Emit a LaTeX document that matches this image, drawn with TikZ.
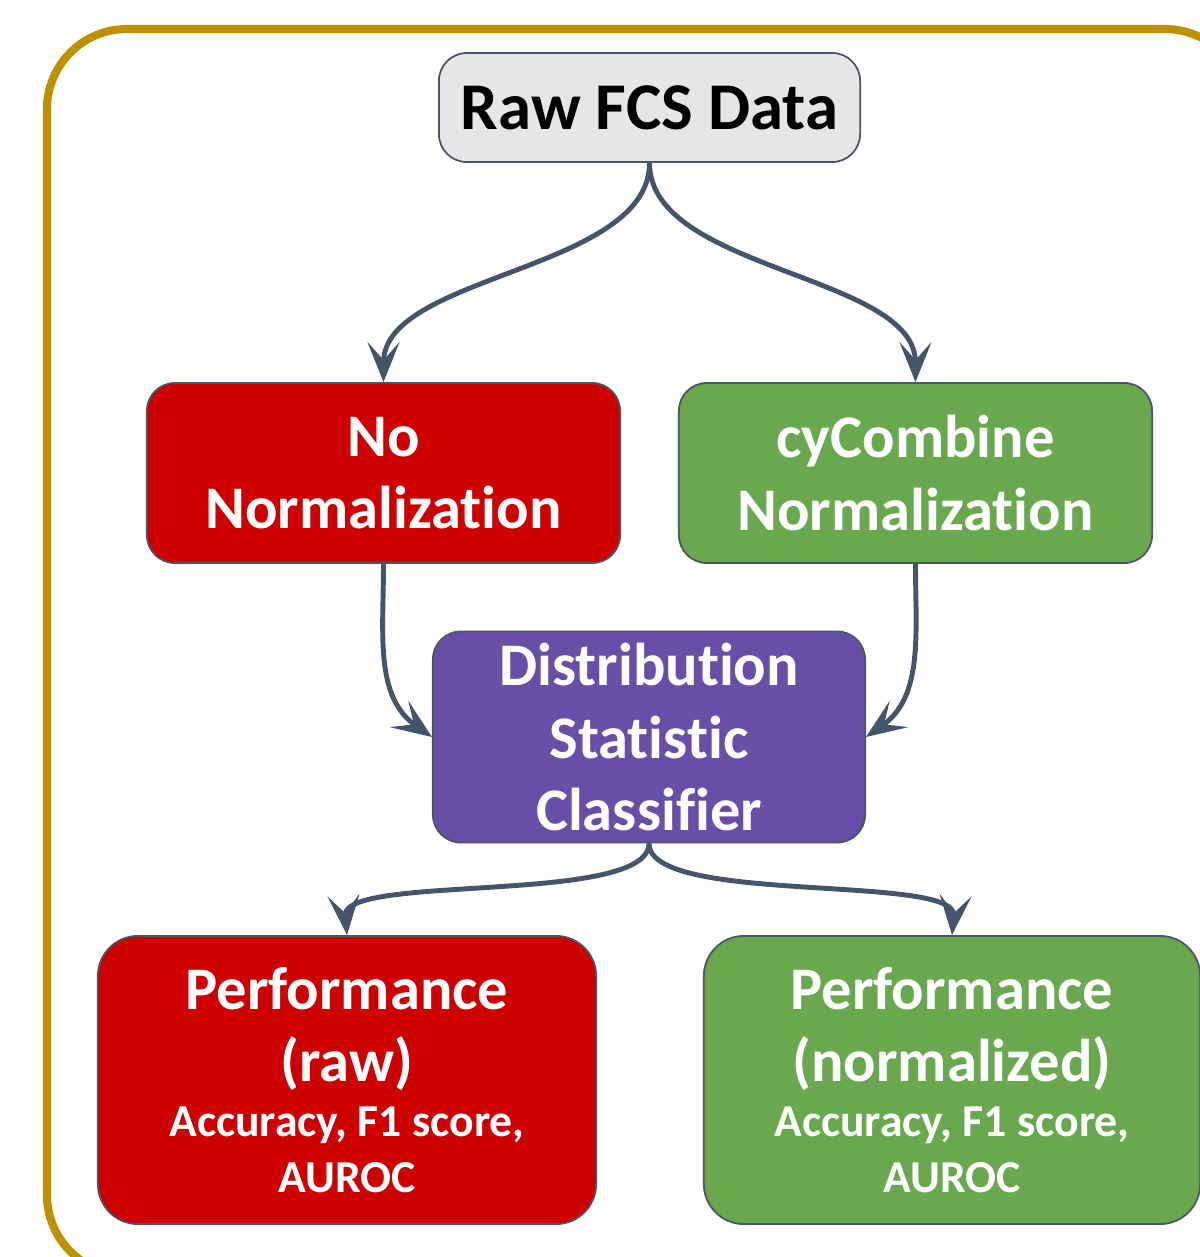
\documentclass[tikz,border=0pt]{standalone}
\usepackage{fontspec}
\setmainfont{Carlito}[Ligatures={NoCommon}]
\usetikzlibrary{positioning,arrows.meta}
\definecolor{rawgray}{HTML}{E6E6E6}
\definecolor{nonormred}{HTML}{CC0000}
\definecolor{cygreen}{HTML}{6AA84F}
\definecolor{dspurple}{HTML}{674EA7}
\definecolor{linkslate}{HTML}{44546A}
\definecolor{framegold}{HTML}{BF9000}
\definecolor{edgegray}{HTML}{4A5666}
\newcommand{\metricfont}{\fontsize{13}{15.6}\selectfont}
\begin{document}
\begin{tikzpicture}[x=0.01cm, y=-0.01cm, >={Stealth[length=4mm, width=3.2mm, inset=1.8mm]},
    box/.style={draw=edgegray, line width=0.5pt, rounded corners=0.28cm, align=center, text=white, font=\bfseries\fontsize{17.2}{20.5}\selectfont},
    link/.style={->, draw=linkslate, line width=1.4pt}]
    \useasboundingbox (0,0) rectangle (1199,1257);
    % outer frame, runs off the right and bottom
    \draw[framegold, line width=2.3pt, rounded corners=0.8cm] (47,29) rectangle (1245,1275);
    \node[box, fill=rawgray, text=black, minimum width=4.21cm, minimum height=1.09cm, font=\bfseries\fontsize{19}{23}\selectfont] (raw) at (649.5,107.5) {Raw FCS Data};
    \node[box, fill=nonormred, minimum width=4.73cm, minimum height=1.80cm] (nonorm) at (383.5,473) {No\\Normalization};
    \node[box, fill=cygreen, minimum width=4.73cm, minimum height=1.80cm] (cycomb) at (915.5,473) {cyCombine\\Normalization};
    \node[box, fill=dspurple, minimum width=4.32cm, minimum height=2.11cm] (dsc) at (649,737) {Distribution\\Statistic\\Classifier};
    \node[box, fill=nonormred, rounded corners=0.4cm, minimum width=4.98cm, minimum height=2.88cm] (perfraw) at (347,1080) {Performance\\(raw)\\[-5pt]{\metricfont Accuracy, F1 score,}\\[-4.5pt]{\metricfont AUROC}};
    \node[box, fill=cygreen, rounded corners=0.4cm, minimum width=4.96cm, minimum height=2.88cm] (perfnorm) at (952,1080) {Performance\\(normalized)\\[-5pt]{\metricfont Accuracy, F1 score,}\\[-4.5pt]{\metricfont AUROC}};
    % connectors
    \draw[link] (raw.south) to[out=-90, in=90, looseness=0.8] (nonorm.north);
    \draw[link] (raw.south) to[out=-90, in=90, looseness=0.8] (cycomb.north);
    \draw[link] (nonorm.south) to[out=-90, in=145] (dsc.west);
    \draw[link] (cycomb.south) to[out=-90, in=35] (dsc.east);
    \draw[link] (dsc.south) to[out=-90, in=95, looseness=0.5] (perfraw.north);
    \draw[link] (dsc.south) to[out=-90, in=85, looseness=0.5] (perfnorm.north);
\end{tikzpicture}
\end{document}
